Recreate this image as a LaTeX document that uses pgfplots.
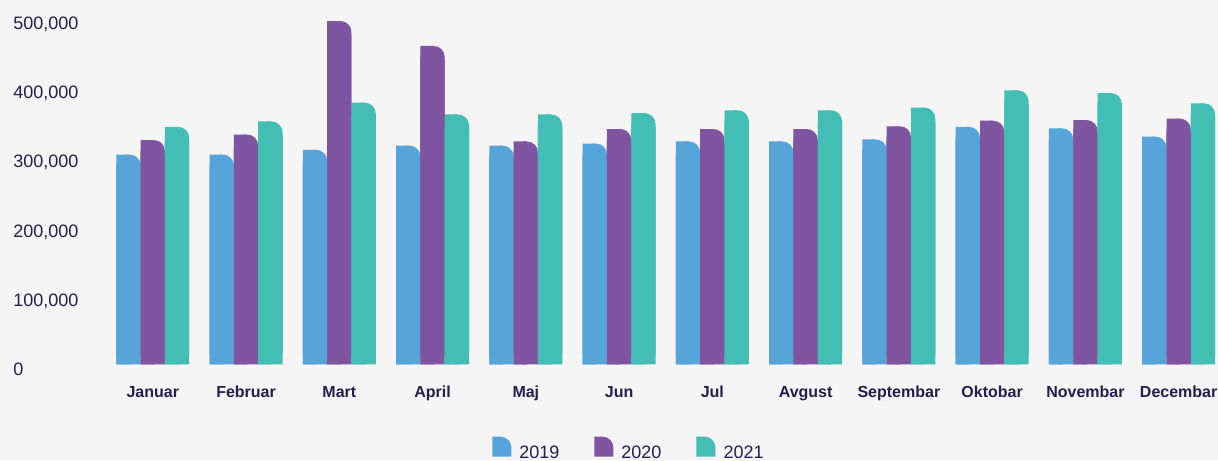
\documentclass[border=0pt]{standalone}
\usepackage{fontspec}
\setmainfont{Liberation Sans}
\usepackage{pgfplots}
\usepackage{pgfplotstable}
\pgfplotsset{compat=1.18}
\definecolor{bg}{HTML}{F4F5F4}
\definecolor{c19}{HTML}{56A4DA}
\definecolor{c20}{HTML}{7F54A1}
\definecolor{c21}{HTML}{43BEB4}
\definecolor{txt}{HTML}{221E4E}
\pgfplotstableread{
x y19 y20 y21
0 303000 324000 343000
1 303000 332000 351000
2 310000 496000 378000
3 316000 460000 361000
4 316000 322000 361000
5 319000 340000 363000
6 322000 340000 367000
7 322000 340000 367000
8 325000 344000 371000
9 343000 352000 396000
10 341000 353000 392000
11 329000 355000 377000
}\datatable
\begin{document}
\begin{tikzpicture}
\fill[bg] (0,0) rectangle (609pt,230pt);
\begin{axis}[
  at={(48.42pt,47.85pt)}, anchor=south west,
  scale only axis, width=559.56pt, height=173pt,
  xmin=-0.6, xmax=11.4, ymin=0, ymax=500000,
  ybar, bar width=12.15pt,
  scaled y ticks=false,
  axis line style={draw=none}, major tick style={draw=none},
  xtick={0,...,11},
  xticklabels={Januar,Februar,Mart,April,Maj,Jun,Jul,Avgust,Septembar,Oktobar,Novembar,Decembar},
  ytick={0,100000,200000,300000,400000,500000},
  yticklabels={0,{100,000},{200,000},{300,000},{400,000},{500,000}},
  xticklabel style={font=\bfseries\fontsize{8}{9}\selectfont, text=txt, anchor=base, inner sep=0pt, yshift=-12.2pt},
  yticklabel style={font=\fontsize{9}{10}\selectfont, text=txt, anchor=base west, inner sep=0pt, xshift=-41.92pt, yshift=-5.6pt},
  legend style={at={(0.4746,-0.245)}, anchor=center, legend columns=3, draw=none, fill=none,
    font=\fontsize{9}{10}\selectfont, text=txt, nodes={inner sep=0pt},
    /tikz/every odd column/.append style={column sep=4pt},
    /tikz/every even column/.append style={column sep=17.5pt}},
  legend image code/.code={\fill[#1, sharp corners] (0pt,-1.5pt) -- (0pt,8.5pt) -- (4pt,8.5pt) arc[start angle=90,end angle=0,radius=5.5pt] -- (9.5pt,-1.5pt) -- cycle;},
  legend entries={2019,2020,2021},
]
\addplot[fill=c19, draw=none, bar shift=-12.15pt, rounded corners=5.5pt] table[x=x,y=y19] {\datatable};
\addplot[fill=c20, draw=none, bar shift=0pt, rounded corners=5.5pt] table[x=x,y=y20] {\datatable};
\addplot[fill=c21, draw=none, bar shift=12.15pt, rounded corners=5.5pt] table[x=x,y=y21] {\datatable};
% square left halves (square top-left corner)
\addplot[fill=c19, draw=none, bar shift=-15.1875pt, bar width=6.075pt, forget plot] table[x=x,y=y19] {\datatable};
\addplot[fill=c20, draw=none, bar shift=-3.0375pt, bar width=6.075pt, forget plot] table[x=x,y=y20] {\datatable};
\addplot[fill=c21, draw=none, bar shift=9.1125pt, bar width=6.075pt, forget plot] table[x=x,y=y21] {\datatable};
% square lower bodies (square bottom corners)
\addplot[fill=c19, draw=none, bar shift=-12.15pt, forget plot] table[x=x,y expr=\thisrow{y19}-20000] {\datatable};
\addplot[fill=c20, draw=none, bar shift=0pt, forget plot] table[x=x,y expr=\thisrow{y20}-20000] {\datatable};
\addplot[fill=c21, draw=none, bar shift=12.15pt, forget plot] table[x=x,y expr=\thisrow{y21}-20000] {\datatable};
\end{axis}
\pgfresetboundingbox
\path[use as bounding box] (0,0) rectangle (609pt,230pt);
\end{tikzpicture}
\end{document}
